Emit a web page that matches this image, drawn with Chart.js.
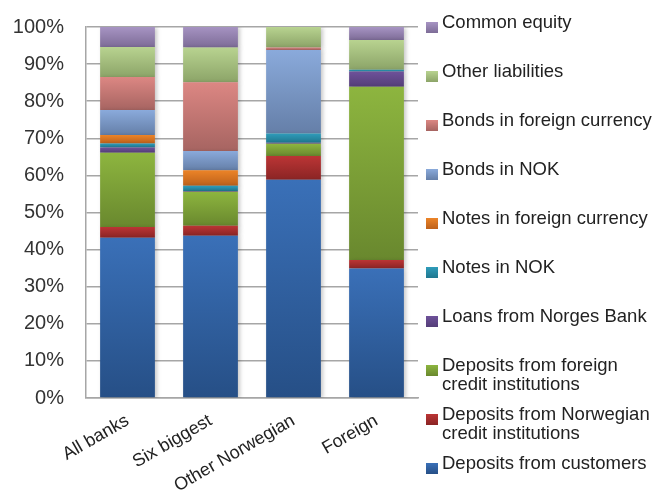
<!DOCTYPE html>
<html>
<head>
<meta charset="utf-8">
<script src="https://cdn.jsdelivr.net/npm/chart.js@4/dist/chart.umd.min.js"></script>
<style>
  body { margin: 0; background: #fff; }
  #wrap { position: relative; width: 655px; height: 490px; }
  #legend { position: absolute; left: 0; top: 0; }
  .item { position: absolute; left: 442px; font: 18.5px "Liberation Sans", Arial, sans-serif; color: #222; line-height: 19px; white-space: pre; }
  .box { position: absolute; left: -16px; top: 10px; width: 12px; height: 11px; }
</style>
</head>
<body>
<div id="wrap">
  <canvas id="chart" width="655" height="490"></canvas>
  <div id="legend"></div>
</div>
<script>
// --- Data (share of total liabilities, %) ---
const categories = ['All banks', 'Six biggest', 'Other Norwegian', 'Foreign'];

const depositsCustomers   = [43.2, 43.7, 58.8, 34.9];
const depositsNorwegianCI = [2.9, 2.7, 6.4, 2.3];
const depositsForeignCI   = [20.0, 9.2, 3.3, 46.7];
const loansNorgesBank     = [1.4, 0.2, 0.3, 4.1];
const notesNOK            = [1.1, 1.4, 2.5, 0.5];
const notesForeign        = [2.3, 4.2, 0, 0];
const bondsNOK            = [6.7, 5.2, 22.5, 0];
const bondsForeign        = [8.9, 18.5, 0.7, 0];
const otherLiabilities    = [8.1, 9.4, 5.5, 8.0];
const commonEquity        = [5.4, 5.7, 0, 3.5];

const yTicks = [0, 10, 20, 30, 40, 50, 60, 70, 80, 90, 100];

// vertical gradient per segment, light on top / dark at bottom
function grad(top, bottom) {
    return ctx => {
        const chart = ctx.chart;
        const y = chart.scales && chart.scales.y;
        if (!chart.chartArea || !y || ctx.type !== 'data') return top;
        const i = ctx.datasetIndex, j = ctx.dataIndex;
        let base = 0;
        for (let k = 0; k < i; k++) base += chart.data.datasets[k].data[j];
        const v = chart.data.datasets[i].data[j];
        const y0 = y.getPixelForValue(base + v), y1 = y.getPixelForValue(base);
        if (!isFinite(y0) || !isFinite(y1) || y1 - y0 < 0.5) return top;
        const g = chart.ctx.createLinearGradient(0, y0, 0, y1);
        g.addColorStop(0, top);
        g.addColorStop(1, bottom);
        return g;
    };
}

const series = [
    { label: 'Deposits from customers', data: depositsCustomers, c: ['#3a70b8', '#264f86'] },
    { label: 'Deposits from Norwegian\ncredit institutions', data: depositsNorwegianCI, c: ['#bb3535', '#8a2424'] },
    { label: 'Deposits from foreign\ncredit institutions', data: depositsForeignCI, c: ['#8db53f', '#69882e'] },
    { label: 'Loans from Norges Bank', data: loansNorgesBank, c: ['#6e519a', '#543e78'] },
    { label: 'Notes in NOK', data: notesNOK, c: ['#2f9cba', '#1f778f'] },
    { label: 'Notes in foreign currency', data: notesForeign, c: ['#ec8428', '#bd611b'] },
    { label: 'Bonds in NOK', data: bondsNOK, c: ['#8aaadb', '#657fa8'] },
    { label: 'Bonds in foreign currency', data: bondsForeign, c: ['#dc8783', '#a66461'] },
    { label: 'Other liabilities', data: otherLiabilities, c: ['#b8d390', '#8ca468'] },
    { label: 'Common equity', data: commonEquity, c: ['#a794c3', '#7d6c97'] }
];

const FONT = '"Liberation Sans", Arial, sans-serif';

const shadowPlugin = {
    id: 'barShadow',
    beforeDatasetsDraw(chart) {
        const c = chart.ctx;
        c.save();
        c.shadowColor = 'rgba(0,0,0,0.22)';
        c.shadowBlur = 4;
        c.shadowOffsetX = 2;
        c.shadowOffsetY = 1;
    },
    afterDatasetsDraw(chart) { chart.ctx.restore(); }
};

new Chart(document.getElementById('chart').getContext('2d'), {
    type: 'bar',
    data: {
        labels: categories,
        datasets: series.map(s => ({
            label: s.label,
            data: s.data,
            backgroundColor: grad(s.c[0], s.c[1]),
            borderWidth: 0,
            barPercentage: 0.66,
            categoryPercentage: 1
        }))
    },
    plugins: [shadowPlugin],
    options: {
        responsive: false,
        animation: false,
        layout: { padding: { top: 27, right: 237, left: 0, bottom: 0 } },
        plugins: { legend: { display: false }, tooltip: { enabled: false } },
        scales: {
            x: {
                stacked: true,
                grid: { display: false },
                border: { color: '#a6a6a6', width: 1.5 },
                ticks: {
                    color: '#222', font: { family: FONT, size: 18 },
                    minRotation: 30, maxRotation: 30, padding: 4
                },
                afterFit(scale) { scale.height = 92; }
            },
            y: {
                stacked: true,
                min: 0, max: 100,
                afterBuildTicks(scale) { scale.ticks = yTicks.map(v => ({ value: v })); },
                grid: { color: '#a6a6a6', lineWidth: 1.5, drawTicks: false },
                border: { color: '#a6a6a6', width: 1.5 },
                ticks: {
                    color: '#333', font: { family: FONT, size: 20 }, padding: 22,
                    callback: v => v + '%'
                },
                afterFit(scale) {
                    scale.width = 86;
                    scale.paddingTop = 0;
                    scale.paddingBottom = 0;
                }
            }
        }
    }
});

// legend on the right, top item = last stacked series
const legend = document.getElementById('legend');
series.slice().reverse().forEach((s, i) => {
    const d = document.createElement('div');
    d.className = 'item';
    d.style.top = (22 + 49 * i - 10) + 'px';
    d.textContent = s.label;
    const b = document.createElement('span');
    b.className = 'box';
    b.style.background = `linear-gradient(${s.c[0]}, ${s.c[1]})`;
    d.appendChild(b);
    legend.appendChild(d);
});
</script>
</body>
</html>
